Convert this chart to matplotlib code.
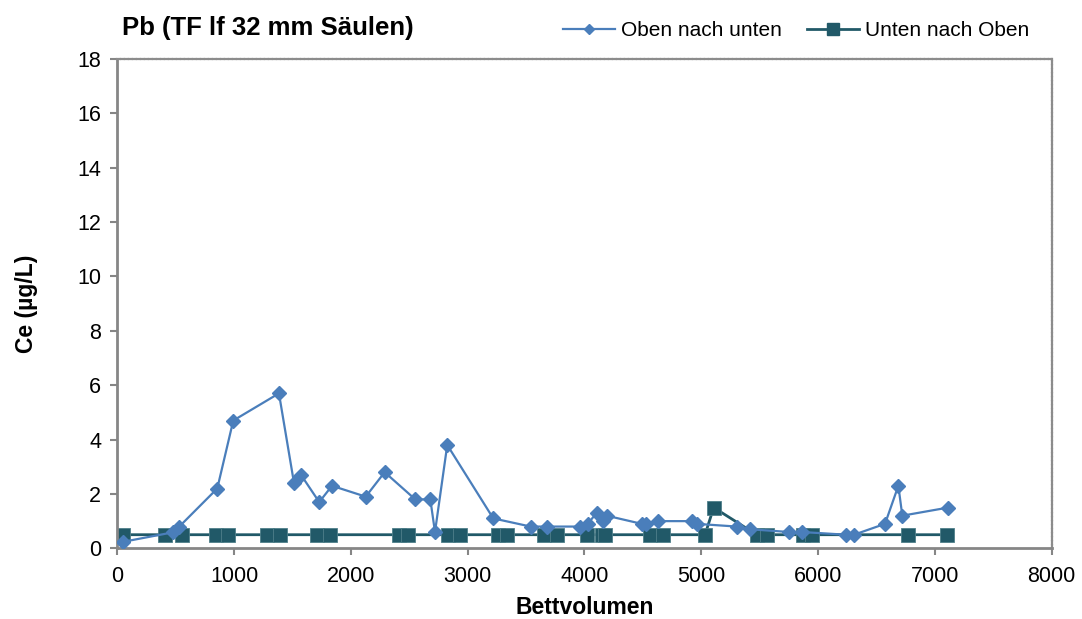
import matplotlib
matplotlib.use("Agg")
import matplotlib.pyplot as plt
from matplotlib.lines import Line2D

plt.rcParams['font.family'] = ['Liberation Sans', 'DejaVu Sans']

# Oben nach unten
bv_oben = [51, 479, 531, 856, 993, 1384, 1513, 1573, 1729, 1838, 2127, 2289,
           2551, 2680, 2720, 2825, 3219, 3539, 3676, 3962, 4027, 4104, 4161,
           4190, 4490, 4524, 4632, 4918, 4960, 5303, 5417, 5753, 5860, 6239,
           6307, 6573, 6687, 6721, 7115]
ce_oben = [0.24, 0.59, 0.8, 2.2, 4.7, 5.7, 2.4, 2.7, 1.7, 2.3, 1.9, 2.8,
           1.8, 1.8, 0.6, 3.8, 1.1, 0.8, 0.8, 0.8, 0.9, 1.3, 1.0,
           1.2, 0.9, 0.9, 1.0, 1.0, 0.9, 0.8, 0.7, 0.6, 0.6, 0.5,
           0.5, 0.9, 2.3, 1.2, 1.5]

# Unten nach Oben
bv_unten = [51, 408, 551, 845, 951, 1279, 1393, 1712, 1821, 2414, 2492, 2829,
            2934, 3262, 3334, 3656, 3762, 4024, 4147, 4175, 4561, 4675, 5032,
            5106, 5474, 5560, 5873, 5945, 6772, 7106]
ce_unten = [0.5, 0.5, 0.5, 0.5, 0.5, 0.5, 0.5, 0.5, 0.5, 0.5, 0.5, 0.5,
            0.5, 0.5, 0.5, 0.5, 0.5, 0.5, 0.5, 0.5, 0.5, 0.5, 0.5,
            1.5, 0.5, 0.5, 0.5, 0.5, 0.5, 0.5]

blue = '#4a7ebb'
teal = '#215968'

fig = plt.figure(figsize=(10.82, 6.19), dpi=100)
ax = fig.add_axes([0.1084, 0.1142, 0.8636, 0.7905])

ax.plot(bv_unten, ce_unten, color=teal, lw=2, marker='s', ms=10,
        markeredgecolor='#4f7f8a', markeredgewidth=0.6, zorder=2)
ax.plot(bv_oben, ce_oben, color=blue, lw=1.6, marker='D', ms=7,
        markeredgecolor=blue, zorder=3)

ax.set_xlim(0, 8000)
ax.set_ylim(0, 18)
ax.set_xticks(range(0, 8001, 1000))
ax.set_yticks(range(0, 19, 2))
ax.tick_params(direction='out', length=5, width=1.5, color='#868686',
               labelsize=15.5)
ax.tick_params(axis='x', pad=7.5)
ax.tick_params(axis='y', pad=6.5)

for s in ['left', 'bottom']:
    ax.spines[s].set_color('#868686')
    ax.spines[s].set_linewidth(2)
for s in ['top', 'right']:
    ax.spines[s].set_color('#8c8c8c')
    ax.spines[s].set_linewidth(1.6)
    ax.spines[s].set_linestyle((0, (1.2, 0.6)))

ax.set_xlabel('Bettvolumen', fontsize=16.5, fontweight='bold', labelpad=7)
ax.set_ylabel('Ce (µg/L)', fontsize=16.5, fontweight='bold', labelpad=28)

fig.text(0.1128, 0.955, 'Pb (TF lf 32 mm Säulen)', fontsize=18.5,
         fontweight='bold', ha='left', va='center')

handles = [Line2D([], [], color=blue, lw=1.6, marker='D', ms=5),
           Line2D([], [], color=teal, lw=2, marker='s', ms=9)]
fig.legend(handles, ['Oben nach unten', 'Unten nach Oben'],
           loc='center', bbox_to_anchor=(0.736, 0.95), ncol=2, frameon=False,
           fontsize=15, handlelength=2.5, handletextpad=0.3, columnspacing=1.2)

fig.savefig('out.png', dpi=100)
